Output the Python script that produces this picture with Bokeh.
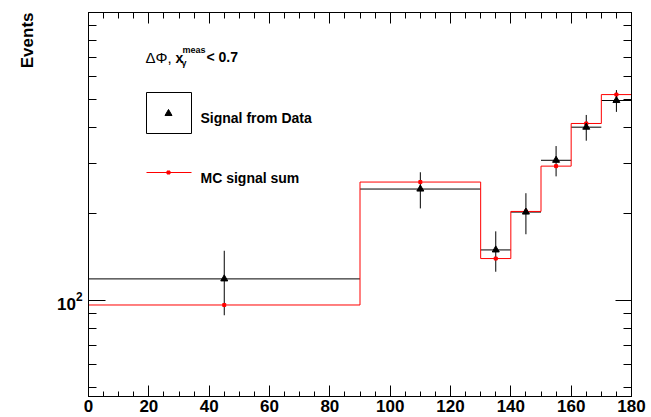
import math
from bokeh.plotting import figure
from bokeh.models import Range1d, LinearAxis, LogAxis, FixedTicker, Label, BoxAnnotation, Title
from bokeh.embed import file_html
from bokeh.resources import INLINE

# ---- data ----
bin_edges = [0, 90, 130, 140, 150, 160, 170, 180]
data_counts = [119, 244, 150, 203, 307, 400, 495]
data_errors = [30, 35, 24, 33, 37, 41, 43]
mc_counts = [96.6, 258, 140, 204, 293, 412, 519]
x_major_ticks = [0, 20, 40, 60, 80, 100, 120, 140, 160, 180]
x_minor_ticks = list(range(0, 181, 5))
y_major_ticks = [100]
y_minor_ticks = [50, 60, 70, 80, 90, 200, 300, 400, 500, 600, 700, 800, 900]
legend_title = ["ΔΦ,", "x", "meas", "γ", "< 0.7"]
legend_data = "Signal from Data"
legend_mc = "MC signal sum"
y_title = "Events"

# ---- layout ----
FONT = "Liberation Sans"
X_LO, X_HI = 0, 180
Y_LO, Y_HI = 46.5, 1000
FRAME_W, FRAME_H = 543, 384
FRAME_LEFT, FRAME_BOTTOM = 88, 396  # page pixels

def fx(px):
    return X_LO + (px - FRAME_LEFT) / FRAME_W * (X_HI - X_LO)

def fy(py):
    lo, hi = math.log10(Y_LO), math.log10(Y_HI)
    return 10 ** (lo + (FRAME_BOTTOM - py) / FRAME_H * (hi - lo))

p = figure(frame_width=FRAME_W, frame_height=FRAME_H,
           x_range=Range1d(X_LO, X_HI), y_range=Range1d(Y_LO, Y_HI),
           y_axis_type="log", output_backend="svg", toolbar_location=None,
           min_border_left=88, min_border_right=16, min_border_top=12, min_border_bottom=18,
           background_fill_color="white", border_fill_color="white",
           outline_line_color="black", outline_line_alpha=1.0)
p.grid.visible = False

xa = p.xaxis[0]
xa.ticker = FixedTicker(ticks=x_major_ticks, minor_ticks=x_minor_ticks)
xa.major_tick_in = 11
xa.major_tick_out = 0
xa.minor_tick_in = 5
xa.minor_tick_out = 0
xa.major_label_standoff = 3
xa.major_label_text_font = FONT
xa.major_label_text_font_style = "bold"
xa.major_label_text_font_size = "17px"
xa.major_label_text_color = "black"
xa.axis_line_color = "black"
xa.major_tick_line_color = "black"
xa.minor_tick_line_color = "black"

ya = p.yaxis[0]
ya.ticker = FixedTicker(ticks=y_major_ticks, minor_ticks=y_minor_ticks)
ya.major_tick_in = 17
ya.major_tick_out = 0
ya.minor_tick_in = 8
ya.minor_tick_out = 0
ya.major_label_standoff = 6
ya.major_label_text_font = FONT
ya.major_label_text_font_style = "bold"
ya.major_label_text_font_size = "17px"
ya.major_label_text_color = "black"
ya.axis_line_color = "black"
ya.major_tick_line_color = "black"
ya.minor_tick_line_color = "black"

top = LinearAxis(ticker=FixedTicker(ticks=x_major_ticks, minor_ticks=x_minor_ticks),
                 major_tick_in=11, major_tick_out=0, minor_tick_in=6, minor_tick_out=0,
                 major_label_overrides={t: "" for t in x_major_ticks},
                 major_label_text_font_size="1px", major_label_standoff=0,
                 axis_line_color="black", major_tick_line_color="black", minor_tick_line_color="black")
p.add_layout(top, "above")
right = LogAxis(ticker=FixedTicker(ticks=y_major_ticks, minor_ticks=y_minor_ticks),
                major_tick_in=16, major_tick_out=0, minor_tick_in=8, minor_tick_out=0,
                major_label_overrides={t: "" for t in y_major_ticks},
                major_label_text_font_size="1px", major_label_standoff=0,
                axis_line_color="black", major_tick_line_color="black", minor_tick_line_color="black")
p.add_layout(right, "right")

p.add_layout(Title(text=y_title, align="right", vertical_align="top", text_font=FONT,
                   text_font_size="17px", text_font_style="bold", text_color="black",
                   standoff=29), "left")

# ---- marks ----
lows = bin_edges[:-1]
highs = bin_edges[1:]
centers = [(a + b) / 2 for a, b in zip(lows, highs)]
err_lo = [v - e for v, e in zip(data_counts, data_errors)]
err_hi = [v + e for v, e in zip(data_counts, data_errors)]

p.segment(x0=lows, y0=data_counts, x1=highs, y1=data_counts, line_color="black", line_width=1)
p.step(x=bin_edges, y=mc_counts + [mc_counts[-1]], mode="after", line_color="#ff0000", line_width=1)
p.segment(x0=centers, y0=err_lo, x1=centers, y1=err_hi, line_color="black", line_width=1)
p.scatter(x=centers, y=mc_counts, marker="square", size=3, color="#ff0000")
p.scatter(x=centers, y=data_counts, marker="triangle", size=7, color="black")

# ---- legend / texts ----
def lab(x, y, text, size, bold=True, **kw):
    p.add_layout(Label(x=x, y=y, text=text, text_font=FONT, text_font_size=size,
                       text_font_style="bold" if bold else "normal", text_color="black",
                       text_baseline=kw.pop("baseline", "alphabetic"), **kw))

lab(fx(145), fy(57), legend_title[0], "15px", bold=False)
lab(fx(175), fy(57), legend_title[1], "14px")
lab(fx(182), fy(49), legend_title[2], "9px")
lab(fx(181), fy(62), legend_title[3], "9px")
lab(fx(206), fy(56.5), legend_title[4], "14px")

p.add_layout(BoxAnnotation(left=fx(146), right=fx(191), top=fy(92), bottom=fy(133),
                           fill_color=None, line_color="black", line_width=1, line_alpha=1))
p.scatter(x=[fx(168)], y=[fy(113)], marker="triangle", size=7, color="black")
lab(fx(200), fy(117), legend_data, "14px")

p.line(x=[fx(146), fx(191)], y=[fy(172), fy(172)], line_color="#ff0000", line_width=1)
p.scatter(x=[fx(168)], y=[fy(172)], marker="square", size=3, color="#ff0000")
lab(fx(200), fy(177), legend_mc, "14px")

open("out.html", "w").write(file_html(p, INLINE))
